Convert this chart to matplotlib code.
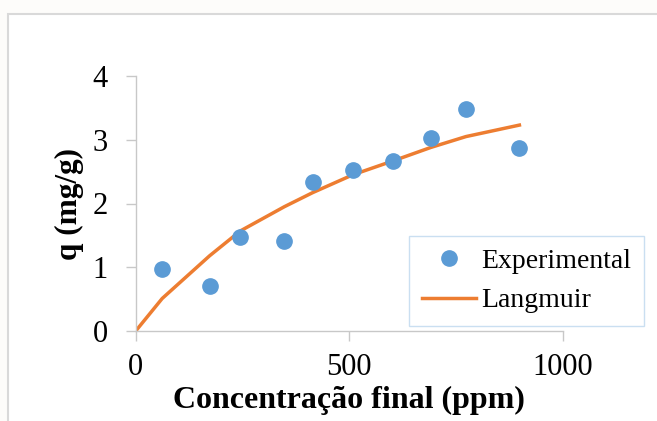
import matplotlib.pyplot as plt
from matplotlib.patches import Rectangle

# final concentration (ppm) and adsorbed amount (mg/g)
conc = [62, 173, 245, 348, 414, 508, 603, 691, 773, 898]
q_exp = [0.98, 0.70, 1.47, 1.41, 2.34, 2.52, 2.66, 3.03, 3.49, 2.87]

# Langmuir fit evaluated at the same concentrations, starting from the origin
conc_fit = [0, 62, 173, 245, 348, 414, 508, 603, 691, 773, 898]
q_fit = [0, 0.51, 1.18, 1.57, 1.95, 2.17, 2.45, 2.67, 2.88, 3.05, 3.23]

x_ticks = [0, 500, 1000]
y_ticks = [0, 1, 2, 3, 4]

plt.rcParams['font.family'] = ['Liberation Serif', 'DejaVu Serif']

W, H = 657, 421
fig = plt.figure(figsize=(W / 100, H / 100), dpi=100, facecolor='#fdfcfa')

# chart area border, kept behind the axes
fig.patches.append(Rectangle((8 / W, -0.1), 1.2, 1.1 - 14 / H,
                             transform=fig.transFigure, facecolor='white',
                             edgecolor='#d9d9d9', linewidth=1.5, zorder=-5))

ax = fig.add_axes([135.7 / W, 1 - 331 / H, (563 - 135.7) / W, (331 - 76) / H])
ax.set_facecolor('none')

ax.plot(conc_fit, q_fit, color='#ed7d31', linewidth=2.5, label='Langmuir', zorder=2)
ax.plot(conc, q_exp, linestyle='none', marker='o', markersize=11,
        color='#5b9bd5', label='Experimental', zorder=3)

ax.set_xlim(0, 1000)
ax.set_ylim(0, 4)
ax.set_xticks(x_ticks)
ax.set_yticks(y_ticks)

for side in ('top', 'right'):
    ax.spines[side].set_visible(False)
for side in ('left', 'bottom'):
    ax.spines[side].set_color('#c8c8c8')
    ax.spines[side].set_linewidth(1.0)

ax.tick_params(axis='both', colors='#c8c8c8', length=7, width=1.0,
               labelsize=22, labelcolor='black')
ax.tick_params(axis='x', pad=9)
ax.tick_params(axis='y', pad=13)

ax.set_xlabel('Concentração final (ppm)', fontsize=23, fontweight='bold')
ax.set_ylabel('q (mg/g)', fontsize=22.5, fontweight='bold')
ax.xaxis.set_label_coords(0.5, -0.215)
ax.xaxis.label.set_va('top')
ax.yaxis.set_label_coords(-0.121, 0.5)

handles, labels = ax.get_legend_handles_labels()
leg = ax.legend(handles[::-1], labels[::-1], loc='upper left',
                bbox_to_anchor=(409 / W, 1 - 236 / H),
                bbox_transform=fig.transFigure, fontsize=20, frameon=True,
                fancybox=False, edgecolor='#bdd7ee', handlelength=1.95,
                handletextpad=0.2, labelspacing=0.5, borderpad=0.45,
                borderaxespad=0)
leg.get_frame().set_linewidth(1.0)

fig.savefig('out.png', dpi=100, facecolor=fig.get_facecolor())
